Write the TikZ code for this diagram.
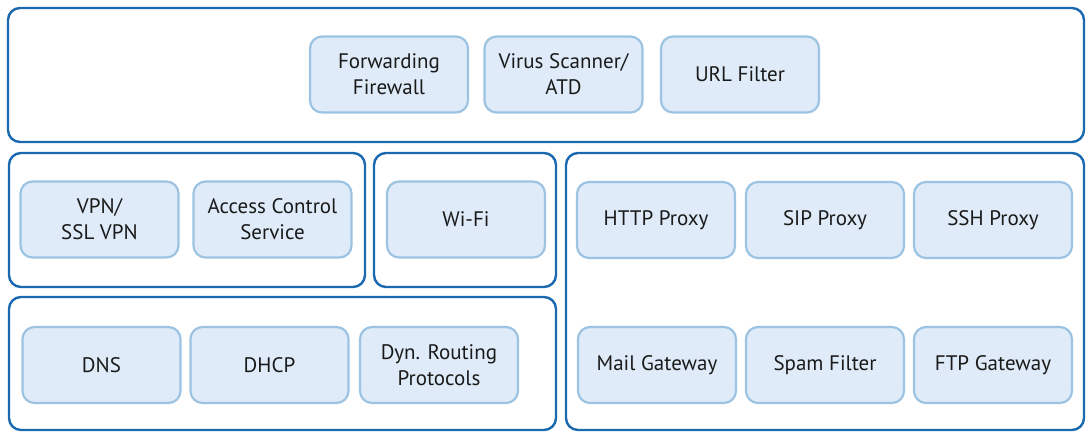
\documentclass[tikz,border=0pt]{standalone}
\usepackage{fontspec}
\setmainfont{PT Sans}
\usetikzlibrary{positioning}
\definecolor{frameblue}{HTML}{1B6AB0}
\definecolor{boxline}{HTML}{9DC3E2}
\definecolor{boxfill}{HTML}{DFEBF8}
\definecolor{textdark}{HTML}{1A1A1A}

\begin{document}
\begin{tikzpicture}[x=1pt,y=-1pt,
group/.style={draw=frameblue,line width=2.4pt,rounded corners=12pt,inner sep=0pt},
module/.style={draw=boxline,line width=2.2pt,fill=boxfill,rounded corners=12pt,
  align=center,minimum width=158pt,minimum height=76pt,inner sep=0pt,
  text=textdark,font=\fontsize{21}{26}\selectfont}]
\useasboundingbox (0,0) rectangle (1092,432);
% group frames
\node[group,minimum width=1076pt,minimum height=134pt] (top) at (546,75) {};
\node[group,minimum width=356pt,minimum height=134pt] (access) at (187,220) {};
\node[group,minimum width=182pt,minimum height=134pt] (wireless) at (465,220) {};
\node[group,minimum width=547pt,minimum height=133pt] (network) at (282.5,363.5) {};
\node[group,minimum width=518pt,minimum height=277pt] (proxies) at (825,291.5) {};
% modules
\node[module] (fw) at (389,74.5) {Forwarding\\Firewall};
\node[module] (virus) at (563.5,74.5) {Virus Scanner/\\ATD};
\node[module] (url) at (740,74.5) {URL Filter};
\node[module] (vpn) at (99.5,219.5) {VPN/\\SSL VPN};
\node[module] (acs) at (272.5,219.5) {Access Control\\Service};
\node[module] (wifi) at (466,219.5) {Wi-Fi};
\node[module] (dns) at (101.5,365) {DNS};
\node[module] (dhcp) at (269.5,365) {DHCP};
\node[module] (routing) at (439,365) {Dyn. Routing\\Protocols};
\node[module] (http) at (656,220) {HTTP Proxy};
\node[module] (sip) at (825,220) {SIP Proxy};
\node[module] (ssh) at (993,220) {SSH Proxy};
\node[module] (mail) at (657,365) {Mail Gateway};
\node[module] (spam) at (825,365) {Spam Filter};
\node[module] (ftp) at (993,365) {FTP Gateway};
\end{tikzpicture}
\end{document}
